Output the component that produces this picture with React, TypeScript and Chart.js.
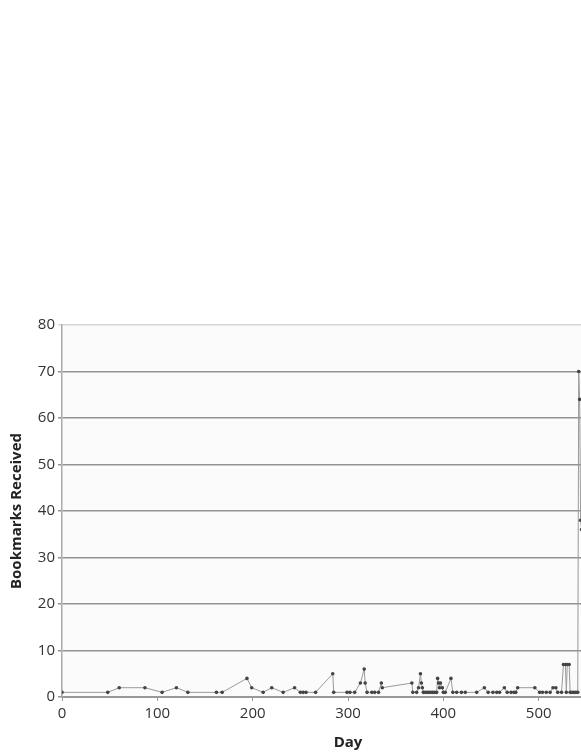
import React, { useEffect, useRef } from "react";
import { Chart, registerables } from "chart.js";

Chart.register(...registerables);

const days = [
  0, 48, 60, 87, 105, 120, 132, 162, 168, 194, 199, 211, 220, 232, 244, 250, 253, 256, 266, 284,
  285, 299, 302, 307, 313, 317, 318, 320, 325, 328, 332, 335, 336, 367, 368, 372, 374, 376, 377, 378,
  379, 381, 383, 385, 387, 389, 391, 393, 394, 395, 396, 397, 399, 400, 402, 408, 410, 414, 419, 423,
  435, 443, 447, 452, 456, 459, 464, 467, 471, 474, 476, 478, 496, 501, 504, 508, 512, 515, 518, 520,
  524, 526, 528, 529, 530, 532, 533, 535, 537, 539, 541, 542, 543, 544, 545,
];
const bookmarks = [
  1, 1, 2, 2, 1, 2, 1, 1, 1, 4, 2, 1, 2, 1, 2, 1, 1, 1, 1, 5,
  1, 1, 1, 1, 3, 6, 3, 1, 1, 1, 1, 3, 2, 3, 1, 1, 2, 5, 3, 2,
  1, 1, 1, 1, 1, 1, 1, 1, 4, 3, 2, 3, 2, 1, 1, 4, 1, 1, 1, 1,
  1, 2, 1, 1, 1, 1, 2, 1, 1, 1, 1, 2, 2, 1, 1, 1, 1, 2, 2, 1,
  1, 7, 7, 1, 7, 7, 1, 1, 1, 1, 1, 70, 64, 38, 36,
];
const xTicks = [0, 100, 200, 300, 400, 500, 600];
const yTicks = [0, 10, 20, 30, 40, 50, 60, 70, 80];
const xTitle = "Day";
const yTitle = "Bookmarks Received";

const FONT = "'Open Sans', 'DejaVu Sans', sans-serif";

export default function App() {
  const ref = useRef<HTMLCanvasElement | null>(null);
  useEffect(() => {
    if (!ref.current) return;
    const bgPlugin = {
      id: "plotBg",
      beforeDraw(chart: any) {
        const { ctx, chartArea } = chart;
        ctx.save();
        ctx.fillStyle = "#fbfbfb";
        ctx.fillRect(chartArea.left, chartArea.top, chartArea.right - chartArea.left, chartArea.bottom - chartArea.top);
        ctx.restore();
      },
    };
    const chart = new Chart(ref.current, {
      type: "line",
      data: {
        datasets: [
          {
            data: days.map((d, i) => ({ x: d, y: bookmarks[i] })),
            borderColor: "#9a9a9a",
            borderWidth: 1,
            pointRadius: 1.8,
            pointBackgroundColor: "#444",
            pointBorderColor: "#444",
            pointBorderWidth: 0,
            tension: 0,
          },
        ],
      },
      options: {
        responsive: false,
        animation: false,
        layout: { padding: { left: 8, top: 325, right: 20, bottom: 0 } },
        plugins: { legend: { display: false }, tooltip: { enabled: false } },
        scales: {
          x: {
            type: "linear",
            min: xTicks[0],
            max: xTicks[xTicks.length - 1],
            afterFit: (s: any) => { s.height = 55; },
            afterBuildTicks: (s: any) => { s.ticks = xTicks.map((v) => ({ value: v })); },
            ticks: { color: "#333", font: { family: FONT, size: 15 }, padding: 4, maxRotation: 0 },
            grid: { drawOnChartArea: false, drawTicks: true, tickLength: 4, color: "#999" },
            border: { display: true, color: "#999", width: 2 },
            title: { display: true, text: xTitle, color: "#222", font: { family: FONT, size: 15, weight: "bold" }, padding: { top: 0, bottom: 0 } },
          },
          y: {
            type: "linear",
            min: yTicks[0],
            max: yTicks[yTicks.length - 1],
            afterFit: (s: any) => { s.width = 54; },
            afterBuildTicks: (s: any) => { s.ticks = yTicks.map((v) => ({ value: v })); },
            ticks: { color: "#333", font: { family: FONT, size: 15 }, padding: 3 },
            grid: {
              color: (c: any) => (c.tick && c.tick.value === 80 ? "#d6d6d6" : "#939393"),
              lineWidth: 1.5,
              tickLength: 4,
            },
            border: { display: true, color: "#aaa", width: 1.5 },
            title: { display: true, text: yTitle, color: "#222", font: { family: FONT, size: 15, weight: "bold" }, padding: { top: 0, bottom: 0 } },
          },
        },
      },
      plugins: [bgPlugin],
    });
    return () => chart.destroy();
  }, []);
  return (
    <div style={{ position: "fixed", left: 0, top: 0, width: 581, height: 752, overflow: "hidden", background: "#fff" }}>
      <canvas ref={ref} width={654} height={752} style={{ display: "block" }} />
    </div>
  );
}
